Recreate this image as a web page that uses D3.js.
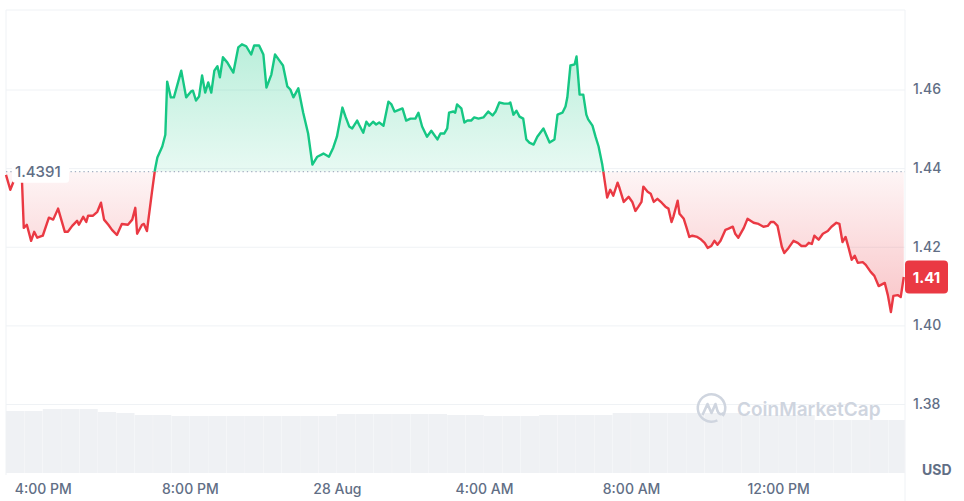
<html>

<head>
    <script src="https://d3js.org/d3.v7.min.js"></script>
    <style>
        body {
            margin: 0;
            background: #fff;
        }

        * {
            font-family: Inter, "Noto Sans", Arial;
        }

        .axis .domain {
            stroke: none;
        }

        .axis text {
            fill: #616e85;
            font-size: 14px;
            font-weight: 500;
        }

        .gridlines line {
            stroke: #eff2f5;
        }

        .gridlines .domain {
            stroke: none;
        }
    </style>
</head>

<body>
    <svg id="chart" width="964" height="501"></svg>
</body>

<script>
    // minutes after 3:00 PM on 27 Aug, and the price at that moment
    const minutes = [
        0, 7, 15, 26, 29, 34, 41, 46, 51, 60,
        70, 77, 85, 96, 101, 108, 116, 119, 126, 131,
        134, 142, 149, 155, 160, 167, 173, 181, 189, 199,
        206, 211, 214, 222, 225, 230, 238, 243, 247, 255,
        260, 263, 269, 274, 286, 294, 302, 305, 310, 315,
        320, 325, 330, 335, 340, 345, 349, 354, 361, 371,
        379, 385, 392, 400, 405, 413, 420, 425, 433, 439,
        446, 452, 459, 464, 469, 477, 485, 493, 500, 508,
        518, 527, 534, 540, 549, 554, 560, 565, 573, 576,
        583, 588, 593, 599, 604, 609, 616, 624, 629, 634,
        647, 653, 660, 668, 673, 679, 687, 694, 704, 709,
        715, 720, 723, 730, 733, 736, 743, 748, 753, 759,
        764, 771, 779, 787, 794, 799, 805, 813, 820, 823,
        828, 833, 838, 844, 849, 854, 861, 867, 877, 882,
        887, 895, 900, 908, 913, 916, 921, 928, 931, 936,
        942, 947, 950, 957, 962, 967, 973, 975, 981, 986,
        991, 998, 1001, 1008, 1016, 1022, 1027, 1032, 1037, 1040,
        1047, 1052, 1057, 1063, 1070, 1076, 1081, 1086, 1089, 1096,
        1099, 1106, 1110, 1115, 1120, 1128, 1133, 1140, 1145, 1151,
        1156, 1161, 1166, 1174, 1179, 1186, 1190, 1195, 1204, 1210,
        1220, 1228, 1236, 1243, 1248, 1253, 1259, 1266, 1270, 1277,
        1285, 1292, 1298, 1305, 1310, 1315, 1319, 1326, 1333, 1341,
        1347, 1355, 1360, 1365, 1370, 1375, 1380, 1385, 1390, 1398,
        1403, 1411, 1417, 1424, 1434, 1439, 1444, 1448, 1455, 1460, 1465
    ];
    const prices = [
        1.4383, 1.4345, 1.4376, 1.4371, 1.4248, 1.4256, 1.4215, 1.4238, 1.4223, 1.4228,
        1.4274, 1.4269, 1.4297, 1.4238, 1.4238, 1.4253, 1.4266, 1.4256, 1.4276, 1.4263,
        1.4279, 1.4279, 1.4289, 1.4312, 1.4269, 1.4256, 1.4243, 1.4230, 1.4258, 1.4256,
        1.4269, 1.4299, 1.4233, 1.4256, 1.4258, 1.4240, 1.4337, 1.4395, 1.4427, 1.4455,
        1.4485, 1.4620, 1.4580, 1.4580, 1.4648, 1.4580, 1.4595, 1.4597, 1.4572, 1.4582,
        1.4636, 1.4592, 1.4618, 1.4592, 1.4648, 1.4659, 1.4631, 1.4682, 1.4669, 1.4643,
        1.4707, 1.4715, 1.4710, 1.4689, 1.4712, 1.4712, 1.4689, 1.4605, 1.4638, 1.4689,
        1.4674, 1.4661, 1.4608, 1.4600, 1.4580, 1.4603, 1.4541, 1.4488, 1.4409, 1.4429,
        1.4437, 1.4429, 1.4452, 1.4480, 1.4554, 1.4531, 1.4506, 1.4501, 1.4521, 1.4511,
        1.4490, 1.4518, 1.4508, 1.4518, 1.4511, 1.4516, 1.4508, 1.4569, 1.4562, 1.4544,
        1.4552, 1.4521, 1.4526, 1.4526, 1.4541, 1.4506, 1.4480, 1.4495, 1.4473, 1.4488,
        1.4488, 1.4501, 1.4541, 1.4544, 1.4541, 1.4562, 1.4552, 1.4516, 1.4521, 1.4521,
        1.4529, 1.4526, 1.4529, 1.4544, 1.4534, 1.4544, 1.4567, 1.4564, 1.4564, 1.4567,
        1.4536, 1.4546, 1.4531, 1.4526, 1.4473, 1.4465, 1.4460, 1.4480, 1.4501, 1.4483,
        1.4465, 1.4473, 1.4536, 1.4541, 1.4557, 1.4580, 1.4661, 1.4664, 1.4684, 1.4587,
        1.4587, 1.4536, 1.4524, 1.4508, 1.4480, 1.4455, 1.4409, 1.4388, 1.4325, 1.4345,
        1.4330, 1.4363, 1.4350, 1.4314, 1.4327, 1.4314, 1.4291, 1.4302, 1.4314, 1.4353,
        1.4340, 1.4335, 1.4314, 1.4322, 1.4312, 1.4302, 1.4297, 1.4263, 1.4276, 1.4317,
        1.4284, 1.4271, 1.4251, 1.4225, 1.4228, 1.4225, 1.4220, 1.4210, 1.4197, 1.4202,
        1.4215, 1.4205, 1.4215, 1.4243, 1.4246, 1.4251, 1.4233, 1.4223, 1.4248, 1.4271,
        1.4261, 1.4258, 1.4251, 1.4253, 1.4263, 1.4263, 1.4253, 1.4200, 1.4184, 1.4197,
        1.4215, 1.4210, 1.4202, 1.4202, 1.4210, 1.4207, 1.4228, 1.4218, 1.4233, 1.4240,
        1.4251, 1.4261, 1.4258, 1.4212, 1.4225, 1.4197, 1.4167, 1.4177, 1.4159, 1.4161,
        1.4154, 1.4136, 1.4126, 1.4100, 1.4108, 1.4077, 1.4034, 1.4075, 1.4077, 1.4072, 1.4123
    ];

    // volume per half hour (millions)
    const volumes = [
        62, 62, 64, 64, 64, 61, 60, 58, 58, 57,
        57, 57, 57, 57, 57, 57, 57, 57, 59, 59,
        59, 59, 59, 59, 58, 58, 57, 57, 57, 58,
        58, 58, 58, 60, 60, 60, 60, 60, 60, 60,
        58, 58, 58, 58, 53, 53, 53, 53, 53
    ];

    const openPrice = 1.4391;
    const priceTicks = [1.38, 1.40, 1.42, 1.44, 1.46];
    const tickHours = [1, 5, 9, 13, 17, 21]; // hours after 3:00 PM
    const tickLabels = ["4:00 PM", "8:00 PM", "28 Aug", "4:00 AM", "8:00 AM", "12:00 PM"];

    const start = new Date(2024, 7, 27, 15, 0);
    const addMin = m => new Date(start.getTime() + m * 60000);
    const data = minutes.map((m, i) => ({ t: addMin(m), p: prices[i] }));

    const svg = d3.select("#chart");
    const plotLeft = 6, plotRight = 905, plotTop = 10, plotBottom = 473;

    const xScale = d3.scaleTime().domain([start, addMin(1467)]).range([plotLeft, plotRight]);
    const yScale = d3.scaleLinear().domain([1.38, 1.46]).range([404, 89.5]);
    const volScale = d3.scaleLinear().domain([0, 80]).range([plotBottom, plotBottom - 80]);
    const baseY = yScale(openPrice);

    const defs = svg.append("defs");
    const green = defs.append("linearGradient").attr("id", "gGreen")
        .attr("gradientUnits", "userSpaceOnUse").attr("x1", 0).attr("x2", 0).attr("y1", 40).attr("y2", baseY);
    green.append("stop").attr("offset", 0).attr("stop-color", "#16c784").attr("stop-opacity", 0.3);
    green.append("stop").attr("offset", 1).attr("stop-color", "#16c784").attr("stop-opacity", 0.1);
    const red = defs.append("linearGradient").attr("id", "gRed")
        .attr("gradientUnits", "userSpaceOnUse").attr("x1", 0).attr("x2", 0).attr("y1", baseY).attr("y2", 315);
    red.append("stop").attr("offset", 0).attr("stop-color", "#ea3943").attr("stop-opacity", 0.05);
    red.append("stop").attr("offset", 1).attr("stop-color", "#ea3943").attr("stop-opacity", 0.3);

    defs.append("clipPath").attr("id", "above").append("rect")
        .attr("x", 0).attr("y", 0).attr("width", 964).attr("height", baseY);
    defs.append("clipPath").attr("id", "below").append("rect")
        .attr("x", 0).attr("y", baseY).attr("width", 964).attr("height", 501 - baseY);

    // frame + gridlines
    svg.append("line").attr("x1", plotLeft).attr("x2", plotRight).attr("y1", plotTop).attr("y2", plotTop).attr("stroke", "#eff2f5");
    svg.append("line").attr("x1", plotLeft).attr("x2", plotLeft).attr("y1", plotTop).attr("y2", plotBottom + 2).attr("stroke", "#eff2f5");
    svg.append("line").attr("x1", plotRight).attr("x2", plotRight).attr("y1", plotTop).attr("y2", 501).attr("stroke", "#eff2f5");

    svg.append("g").attr("class", "gridlines")
        .attr("transform", `translate(${plotLeft},0)`)
        .call(d3.axisRight(yScale).tickValues(priceTicks).tickSize(plotRight - plotLeft).tickFormat(""));

    // volume band
    const binW = xScale(addMin(30)) - xScale(start);
    svg.append("g").selectAll("rect").data(volumes).join("rect")
        .attr("x", (d, i) => xScale(addMin(i * 30)))
        .attr("width", (d, i) => Math.min(binW, plotRight - xScale(addMin(i * 30))) - 0.2)
        .attr("y", d => volScale(d))
        .attr("height", d => plotBottom - volScale(d))
        .attr("fill", "#eff1f4");

    // watermark
    const wm = svg.append("g").attr("transform", "translate(711.5,408)");
    wm.append("path")
        .attr("d", d3.arc()({ innerRadius: 12.5, outerRadius: 15, startAngle: 2.7, endAngle: 2 * Math.PI + 2.2 }))
        .attr("fill", "#cfd5df");
    wm.append("path").attr("d", "M-9,7 L-4,-4 L0,5 L4,-4 L6,3 Q8,8 12,5")
        .attr("fill", "none").attr("stroke", "#cfd5df").attr("stroke-width", 2.6).attr("stroke-linejoin", "round");
    svg.append("text").attr("x", 737).attr("y", 415.5).text("CoinMarketCap")
        .attr("font-size", 19).attr("font-weight", 600).attr("fill", "#cfd5df");

    // price area + line, split at the opening price
    const area = d3.area().x(d => xScale(d.t)).y0(baseY).y1(d => yScale(d.p));
    const line = d3.line().x(d => xScale(d.t)).y(d => yScale(d.p));

    svg.append("path").datum(data).attr("d", area).attr("fill", "url(#gGreen)").attr("clip-path", "url(#above)");
    svg.append("path").datum(data).attr("d", area).attr("fill", "url(#gRed)").attr("clip-path", "url(#below)");

    svg.append("line").attr("x1", plotLeft).attr("x2", plotRight).attr("y1", baseY).attr("y2", baseY)
        .attr("stroke", "#a6b0c3").attr("stroke-width", 1.3).attr("stroke-dasharray", "1.3 3");

    svg.append("path").datum(data).attr("d", line).attr("fill", "none")
        .attr("stroke", "#16c784").attr("stroke-width", 2.4).attr("stroke-linejoin", "round").attr("clip-path", "url(#above)");
    svg.append("path").datum(data).attr("d", line).attr("fill", "none")
        .attr("stroke", "#ea3943").attr("stroke-width", 2.4).attr("stroke-linejoin", "round").attr("clip-path", "url(#below)");

    // open price tag
    svg.append("rect").attr("x", 12).attr("y", baseY - 12).attr("width", 57).attr("height", 23).attr("rx", 3).attr("fill", "#fff");
    svg.append("text").attr("x", 15).attr("y", baseY + 5).text(d3.format(".4f")(openPrice))
        .attr("font-size", 15).attr("font-weight", 500).attr("fill", "#616e85");

    // axes
    svg.append("g").attr("class", "axis")
        .attr("transform", `translate(${plotRight + 8},0)`)
        .call(d3.axisRight(yScale).tickValues(priceTicks).tickSize(0).tickPadding(0).tickFormat(d3.format(".2f")));

    svg.append("g").attr("class", "axis")
        .attr("transform", `translate(0,${plotBottom + 7})`)
        .call(d3.axisBottom(xScale).tickValues(tickHours.map(h => addMin(h * 60))).tickSize(0).tickPadding(4)
            .tickFormat((d, i) => tickLabels[i]));

    svg.append("text").attr("x", 922).attr("y", 475).text("USD")
        .attr("font-size", 14).attr("font-weight", 700).attr("fill", "#616e85");

    // last price tag
    const last = data[data.length - 1];
    const lastY = yScale(last.p);
    svg.append("rect").attr("x", plotRight).attr("y", lastY - 16.5).attr("width", 43).attr("height", 33).attr("rx", 4).attr("fill", "#ea3943");
    svg.append("text").attr("x", plotRight + 21.5).attr("y", lastY + 5.5).attr("text-anchor", "middle")
        .text(d3.format(".2f")(last.p)).attr("font-size", 15).attr("font-weight", 700).attr("fill", "#fff");
</script>

</html>
